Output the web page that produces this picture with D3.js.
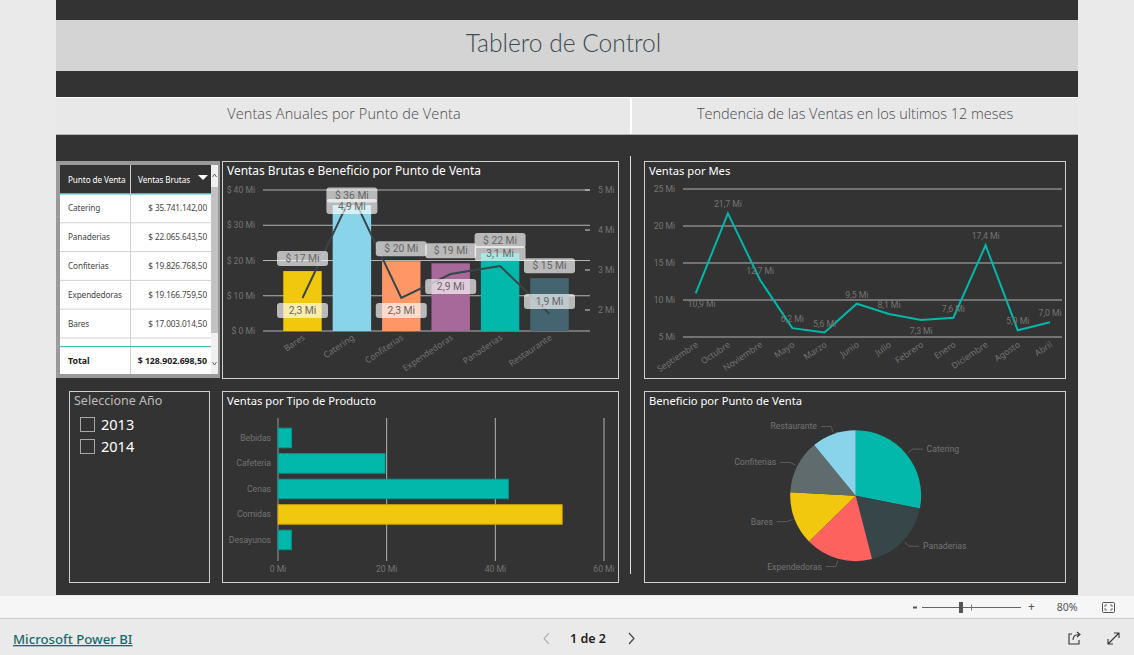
<!DOCTYPE html>
<html lang="es">
<head>
<meta charset="utf-8">
<title>Tablero de Control</title>
<script src="https://cdn.jsdelivr.net/npm/d3@7"></script>
<style>
html,body{margin:0;padding:0;background:#eaeaea;overflow:hidden}
svg{display:block}
text{font-family:"Noto Sans",sans-serif}
</style>
</head>
<body>
<div id="chart"></div>
<script>
// ---------- data ----------
const dashboardTitle = "Tablero de Control";
const sectionTitles = ["Ventas Anuales por Punto de Venta", "Tendencia de las Ventas en los ultimos 12 meses"];

const tableHeader = ["Punto de Venta", "Ventas Brutas"];
const tableNames = ["Catering", "Panaderias", "Confiterias", "Expendedoras", "Bares"];
const tableValues = ["$ 35.741.142,00", "$ 22.065.643,50", "$ 19.826.768,50", "$ 19.166.759,50", "$ 17.003.014,50"];
const tableTotal = ["Total", "$ 128.902.698,50"];

const points = ["Bares", "Catering", "Confiterias", "Expendedoras", "Panaderias", "Restaurante"];
const grossSales = [17.0, 35.7, 19.8, 19.2, 22.1, 15.0];
const profit = [2.3, 4.9, 2.3, 2.9, 3.1, 1.9];
const profitLabelSide = [1, 1, 1, 1, -1, -1];
const pointColors = ["#F2C80F", "#8AD4EB", "#FE9666", "#A66999", "#01B8AA", "#44656F"];
const salesTicks = [0, 10, 20, 30, 40];
const profitTicks = [2, 3, 4, 5];

const months = ["Septiembre", "Octubre", "Noviembre", "Mayo", "Marzo", "Junio", "Julio", "Febrero", "Enero", "Diciembre", "Agosto", "Abril"];
const monthSales = [10.9, 21.7, 12.7, 6.2, 5.6, 9.5, 8.1, 7.3, 7.6, 17.4, 5.9, 7.0];
const monthLabelSide = [1, -1, -1, -1, -1, -1, -1, 1, -1, -1, -1, -1];
const monthTicks = [5, 10, 15, 20, 25];

const years = ["2013", "2014"];

const productTypes = ["Bebidas", "Cafeteria", "Cenas", "Comidas", "Desayunos"];
const productSales = [2.5, 19.7, 42.4, 52.3, 2.45];
const productColors = ["#01B8AA", "#01B8AA", "#01B8AA", "#F2C80F", "#01B8AA"];
const productTicks = [0, 20, 40, 60];

const pieNames = ["Catering", "Panaderias", "Expendedoras", "Bares", "Confiterias", "Restaurante"];
const pieValues = [4.9, 3.1, 2.9, 2.3, 2.3, 1.9];
const pieColors = ["#01B8AA", "#374649", "#FD625E", "#F2C80F", "#5F6B6D", "#8AD4EB"];

// ---------- helpers ----------
const W = 1134, H = 655;
const DARK = "#333333", AXIS = "#747474", GRID = "#b4b4b4", BOX = "#d0d0d0";
const AXIS_SIZE = 8.7;
const svg = d3.select("#chart").append("svg").attr("width", W).attr("height", H);
const comma = v => d3.format(".1f")(v).replace(".", ",");

function rect(g, x, y, w, h, fill, stroke, rx) {
  const r = g.append("rect").attr("x", x).attr("y", y).attr("width", w).attr("height", h).attr("fill", fill || "none");
  if (stroke) r.attr("stroke", stroke).attr("stroke-width", 1);
  if (rx) r.attr("rx", rx);
  return r;
}
function text(g, x, y, s, size, color, anchor, weight) {
  return g.append("text").attr("x", x).attr("y", y).text(s)
    .attr("font-size", size).attr("fill", color)
    .attr("text-anchor", anchor || "start")
    .attr("font-weight", weight || 400);
}
function axisText(g, x, y, s, anchor) {
  return text(g, x, y, s, AXIS_SIZE, AXIS, anchor).style("font-family", "Roboto").attr("letter-spacing", -0.05);
}
function line(g, x1, y1, x2, y2, color, w) {
  return g.append("line").attr("x1", x1).attr("y1", y1).attr("x2", x2).attr("y2", y2)
    .attr("stroke", color).attr("stroke-width", w || 1);
}
function panel(x, y, w, h, title, titleSize) {
  const g = svg.append("g");
  rect(g, x + .5, y + .5, w, h, "none", BOX);
  if (title) text(g, x + 5, y + 14, title, titleSize || 11.2, "#ffffff");
  return g;
}
// Power BI style category axis labels, slanted and ending under the tick
function slanted(g, cats, xf, y) {
  g.selectAll(null).data(cats).join("text")
    .attr("transform", d => `translate(${xf(d) + 3},${y}) rotate(-34)`)
    .attr("text-anchor", "end").attr("font-size", AXIS_SIZE).attr("fill", AXIS)
    .attr("font-family", "Roboto").text(d => d);
}

// ---------- page frame ----------
rect(svg, 0, 0, W, H, "#eaeaea");
rect(svg, 56, 0, 1022, 595, DARK);
rect(svg, 56, 20, 1022, 51, "#d4d4d4");
text(svg, 563.5, 52, dashboardTitle, 24.6, "#3d4a50", "middle", 300).style("font-family", "Lato");
rect(svg, 56, 97, 1022, 38, "#e8e8e8");
line(svg, 56, 97.5, 1078, 97.5, "#ffffff");
line(svg, 56, 134.5, 1078, 134.5, "#b4b4b4");
line(svg, 631, 97, 631, 134, "#ffffff", 2);
text(svg, 344, 119, sectionTitles[0], 14.5, "#4a4a4a", "middle", 300).style("font-family", "Open Sans").attr("letter-spacing", .1);
text(svg, 855, 119, sectionTitles[1], 14.5, "#4a4a4a", "middle", 300).style("font-family", "Open Sans").attr("letter-spacing", -0.03);
line(svg, 630.5, 156, 630.5, 574, "#e0e0e0", 1);

// ---------- table ----------
(function () {
  const g = svg.append("g");
  rect(g, 56, 161, 164, 217, "#9a9a9a");
  rect(g, 60, 165, 151, 209, "#ffffff");
  rect(g, 60, 165, 151, 28, DARK);
  rect(g, 60, 193, 151, 1.5, "#3fc0b4");
  line(g, 130.5, 165, 130.5, 374, "#cfcfcf");
  text(g, 68, 183, tableHeader[0], 8.2, "#fff").attr("letter-spacing", -0.1);
  text(g, 138, 183, tableHeader[1], 8.2, "#fff").attr("letter-spacing", -0.1);
  g.append("path").attr("d", d3.line()([[198, 175], [208, 175], [203, 180]]) + "Z").attr("fill", "#fff");
  const rowY = d3.scaleBand().domain(tableNames).range([194, 338]);
  tableNames.forEach((n, i) => {
    const c = rowY(n) + rowY.bandwidth() / 2 + 3;
    text(g, 68, c, n, 8.2, "#444").attr("letter-spacing", -0.1);
    text(g, 207, c, tableValues[i], 8.2, "#444", "end").attr("letter-spacing", -0.1);
    line(g, 60, rowY(n) + rowY.bandwidth(), 211, rowY(n) + rowY.bandwidth(), "#d2d2d2", 1);
  });
  rect(g, 60, 346, 151, 1.2, "#3fc0b4");
  text(g, 68, 364, tableTotal[0], 8.8, "#222", "start", 700);
  text(g, 207, 364, tableTotal[1], 8.8, "#222", "end", 700).attr("letter-spacing", -0.05);
  rect(g, 211, 165, 7, 209, "#f0f0f0");
  rect(g, 211, 187, 7, 146, "#c2c2c2");
  g.append("path").attr("d", "M212.5 177L214.5 174L216.5 177").attr("fill", "none").attr("stroke", "#666");
  g.append("path").attr("d", "M212.5 362L214.5 365L216.5 362").attr("fill", "none").attr("stroke", "#666");
})();

// ---------- Ventas Brutas e Beneficio ----------
(function () {
  const g = panel(222, 161, 396, 217, "Ventas Brutas e Beneficio por Punto de Venta", 11.95);
  const x = d3.scaleBand().domain(points).range([277.8, 574.2]).paddingInner(0.222).paddingOuter(0.111);
  const y = d3.scaleLinear().domain([0, 40]).range([331, 190]);
  const y2 = d3.scaleLinear().domain([2, 5]).range([310, 190]);
  salesTicks.forEach(t => {
    line(g, 263, y(t), 590, y(t), GRID, 1);
    axisText(g, 255, y(t) + 3, `$ ${t} Mi`, "end");
  });
  profitTicks.forEach(t => {
    line(g, 585, y2(t), 590, y2(t), "#cfcfcf", 1);
    axisText(g, 598, y2(t) + 3, `${t} Mi`);
  });
  g.selectAll(null).data(points).join("rect")
    .attr("x", d => x(d)).attr("width", x.bandwidth())
    .attr("y", (d, i) => y(grossSales[i])).attr("height", (d, i) => y(0) - y(grossSales[i]))
    .attr("fill", (d, i) => pointColors[i]);
  const cx = d => x(d) + x.bandwidth() / 2;
  g.append("path").datum(points)
    .attr("d", d3.line().x(cx).y((d, i) => y2(profit[i])))
    .attr("fill", "none").attr("stroke", "#374649").attr("stroke-width", 2);
  slanted(g, points, cx, 339);
  const label = (xc, yc, s) => {
    rect(g, xc - 25.5, yc - 7.5, 51, 15, "#ffffff", null, 3).attr("fill-opacity", .66);
    text(g, xc, yc + 3.5, s, 10.3, "#666", "middle").style("font-family", "Roboto");
  };
  points.forEach((p, i) => {
    label(cx(p), Math.max(y(grossSales[i]) - 12.5, 195), `$ ${Math.round(grossSales[i])} Mi`);
  });
  points.forEach((p, i) => {
    label(cx(p), y2(profit[i]) + 12.5 * profitLabelSide[i], `${comma(profit[i])} Mi`);
  });
})();

// ---------- Ventas por Mes ----------
(function () {
  const g = panel(644, 161, 421, 217, "Ventas por Mes");
  const x = d3.scalePoint().domain(months).range([695.7, 1050]);
  const y = d3.scaleLinear().domain([5, 25]).range([337, 189]);
  monthTicks.forEach(t => {
    line(g, 683, y(t), 1062, y(t), GRID, 1.2);
    axisText(g, 675, y(t) + 3, `${t} Mi`, "end");
  });
  g.append("path").datum(months)
    .attr("d", d3.line().x(d => x(d)).y((d, i) => y(monthSales[i])))
    .attr("fill", "none").attr("stroke", "#01B8AA").attr("stroke-width", 2);
  slanted(g, months, x, 346);
  months.forEach((m, i) => {
    const below = monthLabelSide[i] > 0;
    axisText(g, x(m) + (i === 0 ? 6 : 0), y(monthSales[i]) + (below ? 14 : -6), `${comma(monthSales[i])} Mi`, "middle");
  });
})();

// ---------- Seleccione Año ----------
(function () {
  const g = panel(69, 391, 140, 191);
  text(g, 74, 405, "Seleccione Año", 12.5, "#bdbdbd");
  years.forEach((yr, i) => {
    rect(g, 80.5, 417.5 + i * 22, 14, 14, "none", "#a8a8a8");
    text(g, 101, 430 + i * 22, yr, 14.5, "#ffffff");
  });
})();

// ---------- Ventas por Tipo de Producto ----------
(function () {
  const g = panel(222, 391, 396, 191, "Ventas por Tipo de Producto");
  const x = d3.scaleLinear().domain([0, 60]).range([278, 604]);
  const y = d3.scaleBand().domain(productTypes).range([425.2, 552.7]).paddingInner(0.235).paddingOuter(0.118);
  productTicks.forEach(t => {
    line(g, x(t), 418, x(t), 561, t === 0 ? "#999" : GRID, 1);
    axisText(g, x(t), 572, `${t} Mi`, "middle");
  });
  g.selectAll(null).data(productTypes).join("rect")
    .attr("x", x(0)).attr("y", d => y(d)).attr("height", y.bandwidth())
    .attr("width", (d, i) => x(productSales[i]) - x(0))
    .attr("fill", (d, i) => productColors[i])
    .attr("stroke", (d, i) => d3.color(productColors[i]).darker(0.5)).attr("stroke-width", 1);
  productTypes.forEach(p => {
    axisText(g, 271, y(p) + y.bandwidth() / 2 + 3, p, "end");
  });
})();

// ---------- Beneficio por Punto de Venta ----------
(function () {
  const g = panel(644, 391, 421, 191, "Beneficio por Punto de Venta");
  const R = 65.5, cx = 855.7, cy = 495.7;
  const arcs = d3.pie().sort(null).value(d => d)(pieValues);
  const arc = d3.arc().innerRadius(0).outerRadius(R);
  const pg = g.append("g").attr("transform", `translate(${cx},${cy})`);
  pg.selectAll(null).data(arcs).join("path").attr("d", arc)
    .attr("fill", (d, i) => pieColors[i]);
  arcs.forEach((a, i) => {
    const mid = (a.startAngle + a.endAngle) / 2, s = Math.sin(mid), c = -Math.cos(mid);
    const dir = s >= 0 ? 1 : -1;
    const p0 = [s * (R + 2), c * (R + 2)], p1 = [s * (R + 8), c * (R + 8)], p2 = [p1[0] + dir * 10, p1[1]];
    pg.append("path").attr("d", d3.line()([p0, p1, p2])).attr("fill", "none").attr("stroke", "#5c5c5c");
    axisText(pg, p1[0] + dir * 14, p1[1] + 3, pieNames[i], dir > 0 ? "start" : "end").attr("letter-spacing", 0);
  });
})();

// ---------- footer ----------
(function () {
  const g = svg.append("g");
  rect(g, 0, 596, W, 22, "#f6f6f6");
  line(g, 0, 618.5, W, 618.5, "#cccccc");
  rect(g, 0, 619, W, 36, "#eaeaea");
  rect(g, 913, 606.5, 4, 2, "#555");
  line(g, 922, 607.5, 1021, 607.5, "#666");
  rect(g, 959, 602, 4, 11, "#555");
  line(g, 971.5, 604.5, 971.5, 610.5, "#777");
  text(g, 1031.5, 611, "+", 12, "#555", "middle");
  text(g, 1067, 611, "80%", 10.5, "#555", "middle");
  rect(g, 1102.5, 602.5, 12, 10, "none", "#555", 1);
  g.append("path").attr("d", "M1105 607V605H1107M1110 605H1112V607M1112 608V610H1110M1107 610H1105V608")
    .attr("fill", "none").attr("stroke", "#555").attr("stroke-width", .8);
  text(g, 13, 644, "Microsoft Power BI", 13.2, "#166a6e").attr("text-decoration", "underline").attr("font-weight", 500);
  text(g, 588, 643, "1 de 2", 12.5, "#222", "middle", 600);
  g.append("path").attr("d", "M549 633L544 638.5L549 644").attr("fill", "none").attr("stroke", "#b5b5b5").attr("stroke-width", 1.2);
  g.append("path").attr("d", "M629 633L634 638.5L629 644").attr("fill", "none").attr("stroke", "#444").attr("stroke-width", 1.2);
  g.append("path").attr("d", "M1072 634H1069V644H1079V640M1073 640C1073 636 1076 634.5 1079 634.5M1077 632L1080 634.5L1077 637")
    .attr("fill", "none").attr("stroke", "#333").attr("stroke-width", 1.1);
  g.append("path").attr("d", "M1108 644L1119 633M1114 633H1119V638M1108 639V644H1113")
    .attr("fill", "none").attr("stroke", "#333").attr("stroke-width", 1.1);
})();
</script>
</body>
</html>
